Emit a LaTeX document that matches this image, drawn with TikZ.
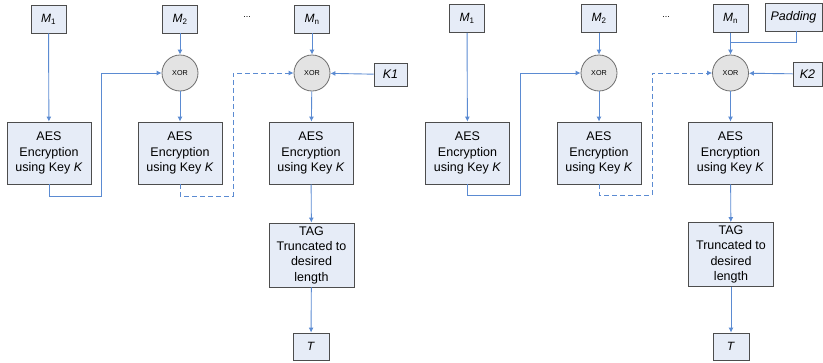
\documentclass[tikz,border=0pt]{standalone}
\usepackage{fontspec}
\setmainfont{Liberation Sans}
\usetikzlibrary{arrows.meta,calc}
\definecolor{boxfill}{HTML}{E6ECF7}
\definecolor{boxedge}{HTML}{4D4D4D}
\definecolor{flow}{HTML}{5B8BD2}
\definecolor{xorfill}{HTML}{E3E3E3}
\definecolor{xoredge}{HTML}{6E6E6E}
\tikzset{
  blk/.style={draw=boxedge, fill=boxfill, line width=0.8pt, inner sep=0pt, align=center,
    font=\fontsize{12.5}{15.3}\selectfont},
  aes/.style={blk, minimum width=84pt, minimum height=62pt},
  tag/.style={blk, minimum width=85pt, minimum height=64pt},
  msg/.style={blk, minimum width=35pt, minimum height=28pt, font=\fontsize{12}{14}\selectfont},
  keybox/.style={blk, minimum height=23pt, font=\fontsize{12.5}{14}\selectfont\itshape},
  xor/.style={circle, draw=xoredge, fill=xorfill, line width=0.8pt, minimum size=36pt, inner sep=0pt,
    font=\fontsize{7.2}{8}\selectfont},
  dots/.style={font=\fontsize{9}{10}\selectfont, inner sep=0pt},
  link/.style={draw=flow, line width=0.9pt},
  arr/.style={link, -{Latex[length=5pt,width=5pt]}},
  darr/.style={arr, dash pattern=on 5pt off 3pt}
}
\begin{document}
\begin{tikzpicture}[x=1pt,y=-1pt]
\useasboundingbox (0,0) rectangle (823,362);

% ---- CMAC, complete final block ----
\node[msg] (a1) at (48.5,19) {\textit{M}\textsubscript{1}};
\node[msg] (a2) at (180,19) {\textit{M}\textsubscript{2}};
\node[dots] (adots) at (247,17) {...};
\node[msg] (an) at (312,19) {\textit{M}\textsubscript{n}};
\node[xor] (ax2) at (180,73) {XOR};
\node[xor] (axn) at (312,73) {XOR};
\node[keybox, minimum width=33pt] (k1) at (390.5,74.5) {K1};
\node[aes] (ae1) at (49,153) {AES\\Encryption\\using Key \textit{K}};
\node[aes] (ae2) at (180,153) {AES\\Encryption\\using Key \textit{K}};
\node[aes] (ae3) at (311,153) {AES\\Encryption\\using Key \textit{K}};
\node[tag] (atag) at (311.5,255) {TAG\\Truncated to\\desired\\length};
\node[msg, minimum width=36pt, minimum height=27pt] (at) at (311,346.5) {\textit{T}};

\coordinate (ac1) at (101,196);
\coordinate (ac2) at (233,196);

\draw[arr] (a1) -- (ae1);
\draw[arr] (a2) -- (ax2);
\draw[arr] (ax2) -- (ae2);
\draw[arr] (an) -- (axn);
\draw[arr] (axn) -- (ae3);
\draw[arr] (k1) -- (axn);
\draw[arr] (ae1.south) |- (ac1) |- (ax2.west);
\draw[darr] (ae2.south) |- (ac2) |- (axn.west);
\draw[arr] (ae3) -- (atag);
\draw[arr] (atag) -- (at);

% ---- CMAC, padded final block ----
\node[msg] (b1) at (467,18.5) {\textit{M}\textsubscript{1}};
\node[msg] (b2) at (599,18.5) {\textit{M}\textsubscript{2}};
\node[dots] (bdots) at (666,17) {...};
\node[msg] (bn) at (730.5,18.5) {\textit{M}\textsubscript{n}};
\node[keybox, minimum width=57pt, minimum height=28pt] (pad) at (793.5,17) {Padding};
\node[xor] (bx2) at (599,73) {XOR};
\node[xor] (bxn) at (730.5,73) {XOR};
\node[keybox, minimum width=29pt, minimum height=24pt] (k2) at (807.5,74) {K2};
\node[aes] (be1) at (467.5,153) {AES\\Encryption\\using Key \textit{K}};
\node[aes] (be2) at (599,153) {AES\\Encryption\\using Key \textit{K}};
\node[aes] (be3) at (730.5,153) {AES\\Encryption\\using Key \textit{K}};
\node[tag] (btag) at (731,254.5) {TAG\\Truncated to\\desired\\length};
\node[msg, minimum width=36pt, minimum height=27pt] (bt) at (731,346.5) {\textit{T}};

\coordinate (bc1) at (520,195);
\coordinate (bc2) at (652,195);
\coordinate (bpj) at (730.5,42);

\draw[arr] (b1) -- (be1);
\draw[arr] (b2) -- (bx2);
\draw[arr] (bx2) -- (be2);
\draw[arr] (bn) -- (bxn);
\draw[link] ([xshift=2.5pt]pad.south) |- (bpj);
\draw[arr] (bxn) -- (be3);
\draw[arr] (k2) -- (bxn);
\draw[arr] (be1.south) |- (bc1) |- (bx2.west);
\draw[darr] (be2.south) |- (bc2) |- (bxn.west);
\draw[arr] (be3) -- (btag);
\draw[arr] (btag) -- (bt);
\end{tikzpicture}
\end{document}
